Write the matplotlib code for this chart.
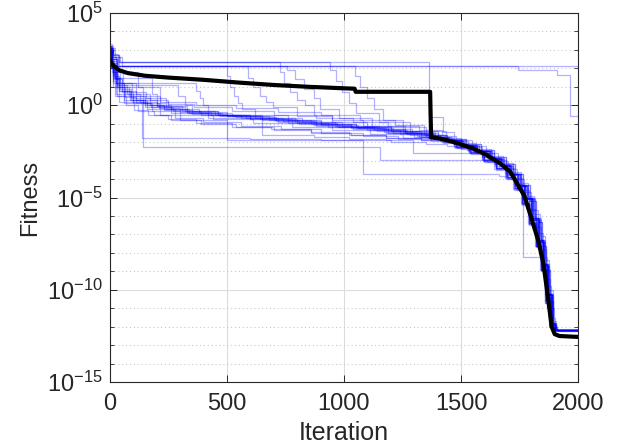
import matplotlib
matplotlib.use('Agg')
import matplotlib.pyplot as plt
import numpy as np

# best-so-far curves of each run: iteration where value changes, log10(fitness)
run_iters = [
    [0, 8, 25, 2000],
    [0, 12, 30, 1744, 1910, 1966, 2000],
    [0, 15, 40, 1363, 1423, 1470, 1530, 1590, 1640, 1690, 1725, 1760, 1790, 1815, 1840, 1862, 1880, 1898, 1915, 2000],
    [0, 20, 45, 727, 745, 770, 800, 835, 870, 950, 1080, 1200, 1320, 1430, 1490, 1550, 1610, 1665, 1705, 1742, 1772, 1802, 1830, 1850, 1868, 1886, 1900, 2000],
    [0, 10, 35, 500, 515, 530, 548, 565, 620, 760, 900, 1050, 1180, 1300, 1410, 1470, 1535, 1595, 1648, 1692, 1728, 1760, 1790, 1818, 1840, 1860, 1878, 1893, 2000],
    [0, 15, 50, 590, 610, 640, 665, 697, 800, 950, 1100, 1250, 1380, 1460, 1520, 1585, 1640, 1690, 1730, 1765, 1795, 1822, 1845, 1862, 1878, 1893, 1908, 2000],
    [0, 12, 40, 756, 790, 830, 870, 897, 980, 1120, 1260, 1390, 1450, 1510, 1570, 1625, 1675, 1715, 1750, 1780, 1808, 1835, 1855, 1872, 1890, 1904, 2000],
    [0, 15, 35, 940, 965, 990, 1020, 1050, 1150, 1280, 1400, 1445, 1505, 1565, 1622, 1672, 1712, 1748, 1778, 1806, 1832, 1853, 1870, 1888, 1902, 2000],
    [0, 10, 30, 1047, 1070, 1100, 1130, 1167, 1250, 1350, 1430, 1480, 1540, 1600, 1650, 1695, 1730, 1762, 1792, 1820, 1842, 1862, 1880, 1895, 2000],
    [0, 5, 15, 30, 60, 100, 160, 260, 380, 520, 700, 880, 1050, 1200, 1330, 1440, 1500, 1560, 1620, 1670, 1710, 1745, 1775, 1805, 1832, 1852, 1870, 1888, 1902, 2000],
    [0, 6, 20, 45, 90, 140, 210, 300, 430, 600, 760, 930, 1100, 1240, 1360, 1430, 1480, 1540, 1600, 1650, 1695, 1730, 1762, 1792, 1820, 1842, 1862, 1880, 1895, 2000],
    [0, 8, 25, 214, 250, 320, 450, 580, 740, 900, 1060, 1210, 1350, 1460, 1520, 1585, 1640, 1690, 1730, 1765, 1795, 1822, 1845, 1862, 1878, 1893, 1908, 2000],
    [0, 10, 30, 180, 200, 240, 340, 480, 650, 820, 990, 1150, 1290, 1400, 1450, 1510, 1570, 1625, 1675, 1715, 1750, 1780, 1808, 1835, 1855, 1872, 1890, 1904, 2000],
    [0, 5, 12, 30, 70, 120, 190, 280, 400, 560, 730, 900, 1080, 1230, 1370, 1425, 1475, 1535, 1592, 1642, 1688, 1722, 1755, 1786, 1815, 1838, 1858, 1876, 1892, 2000],
    [0, 7, 18, 40, 80, 150, 230, 350, 500, 650, 810, 980, 1140, 1280, 1410, 1470, 1530, 1590, 1645, 1693, 1732, 1768, 1798, 1826, 1848, 1866, 1883, 1898, 2000],
    [0, 8, 25, 60, 141, 1154, 1610, 1660, 1700, 1738, 1770, 1800, 1828, 1850, 1868, 1886, 1900, 2000],
    [0, 6, 20, 50, 100, 180, 300, 500, 1081, 1625, 1660, 1700, 1738, 1770, 1800, 1828, 1850, 1868, 1886, 1900, 2000],
    [0, 5, 15, 40, 90, 150, 260, 420, 650, 870, 1020, 1180, 1295, 1590, 1650, 1695, 1730, 1762, 1792, 1820, 1842, 1862, 1880, 1895, 2000],
    [0, 10, 25, 55, 110, 170, 250, 360, 520, 700, 880, 1040, 1190, 1320, 1420, 1480, 1545, 1605, 1658, 1700, 1738, 1770, 1800, 1828, 1850, 1868, 1886, 1900, 2000],
    [0, 4, 14, 35, 75, 130, 200, 310, 460, 620, 790, 960, 1120, 1260, 1380, 1455, 1515, 1578, 1632, 1682, 1722, 1758, 1788, 1815, 1840, 1858, 1875, 1891, 1905, 2000],
    [0, 10, 120, 140, 170, 230, 330, 470, 640, 800, 970, 1130, 1270, 1390, 1465, 1525, 1590, 1645, 1693, 1732, 1768, 1798, 1826, 1848, 1866, 1883, 1898, 2000],
    [0, 6, 16, 38, 85, 160, 280, 440, 610, 780, 950, 1110, 1250, 1400, 1440, 1495, 1555, 1615, 1665, 1705, 1742, 1772, 1802, 1830, 1850, 1868, 1886, 1900, 2000],
    [0, 8, 20, 214, 260, 390, 540, 700, 860, 1030, 1180, 1330, 1420, 1478, 1540, 1600, 1652, 1697, 1734, 1766, 1796, 1823, 1845, 1864, 1881, 1896, 2000],
    [0, 5, 14, 32, 65, 110, 175, 270, 390, 540, 710, 870, 1030, 1170, 1310, 1415, 1470, 1530, 1590, 1640, 1688, 1726, 1760, 1790, 1818, 1842, 1860, 1878, 1894, 2000],
    [0, 6, 18, 42, 95, 155, 240, 370, 540, 720, 900, 1070, 1220, 1340, 1435, 1500, 1565, 1628, 1680, 1720, 1755, 1785, 1812, 1838, 1858, 1875, 1892, 1906, 2000],
    [0, 4, 12, 28, 60, 105, 165, 250, 370, 520, 690, 860, 1020, 1180, 1330, 1428, 1482, 1542, 1598, 1648, 1692, 1728, 1760, 1790, 1818, 1840, 1860, 1878, 1893, 2000],
    [0, 8, 28, 370, 385, 400, 420, 460, 600, 780, 950, 1110, 1260, 1385, 1450, 1512, 1575, 1632, 1682, 1722, 1758, 1788, 1815, 1840, 1858, 1875, 1891, 1905, 2000],
    [0, 8, 30, 290, 320, 350, 420, 560, 720, 880, 1040, 1190, 1330, 1440, 1505, 1568, 1628, 1678, 1718, 1752, 1782, 1810, 1836, 1856, 1873, 1890, 1904, 2000],
    [0, 5, 15, 40, 137, 600, 900, 1200, 1350, 1440, 1500, 1560, 1620, 1670, 1710, 1745, 1775, 1805, 1832, 1852, 1870, 1888, 1902, 2000],
    [0, 6, 20, 50, 110, 200, 330, 500, 680, 860, 1030, 1190, 1340, 1440, 1500, 1560, 1620, 1670, 1710, 1740, 1765, 1850, 1870, 1888, 1902, 2000],
]
run_logs = [
    [3.0, 2.6, 2.13, 2.13],
    [3.1, 2.5, 2.13, 1.91, 1.64, -0.58, -0.58],
    [3.0, 2.7, 2.36, -0.62, -1.45, -1.95, -2.25, -2.6, -2.95, -3.4, -3.95, -4.6, -5.6, -6.6, -7.8, -9.4, -11.0, -12.1, -12.2, -12.2],
    [3.1, 2.6, 2.36, 1.8, 1.2, 0.7, 0.3, 0.0, -0.5, -0.8, -1.1, -1.4, -1.7, -1.9, -2.15, -2.45, -2.85, -3.25, -3.7, -4.3, -5.0, -6.1, -7.3, -8.6, -10.2, -11.8, -12.2, -12.2],
    [3.0, 2.5, 2.13, 1.6, 1.0, 0.5, 0.1, -0.2, -0.5, -0.8, -1.0, -1.25, -1.5, -1.7, -1.95, -2.25, -2.55, -2.95, -3.4, -3.9, -4.5, -5.3, -6.4, -7.6, -8.9, -10.6, -12.0, -12.2, -12.2],
    [3.2, 2.6, 2.13, 1.5, 1.0, 0.5, 0.2, -0.1, -0.6, -0.9, -1.2, -1.5, -1.8, -1.85, -2.1, -2.4, -2.8, -3.2, -3.7, -4.3, -5.2, -6.3, -7.6, -8.9, -10.6, -12.0, -12.25, -12.25],
    [3.0, 2.7, 2.13, 1.9, 1.4, 0.9, 0.4, -0.2, -0.7, -1.1, -1.45, -1.75, -1.95, -2.2, -2.5, -2.9, -3.3, -3.75, -4.35, -5.1, -6.2, -7.4, -8.7, -10.3, -11.9, -12.2, -12.2],
    [3.1, 2.8, 2.36, 1.9, 1.3, 0.7, 0.1, -0.4, -0.9, -1.4, -1.8, -1.9, -2.15, -2.45, -2.85, -3.25, -3.7, -4.3, -5.0, -6.1, -7.3, -8.6, -10.2, -11.8, -12.2, -12.2],
    [3.0, 2.5, 2.13, 1.6, 1.0, 0.4, -0.2, -0.8, -1.2, -1.6, -1.9, -2.25, -2.55, -2.95, -3.4, -3.9, -4.5, -5.3, -6.4, -7.6, -8.9, -10.6, -12.0, -12.2, -12.2],
    [3.2, 2.5, 1.8, 1.2, 0.6, 0.2, 0.0, -0.2, -0.4, -0.6, -0.8, -1.0, -1.2, -1.4, -1.6, -1.9, -2.15, -2.45, -2.85, -3.25, -3.7, -4.3, -5.0, -6.1, -7.3, -8.6, -10.2, -11.8, -12.2, -12.2],
    [3.0, 2.2, 1.5, 0.9, 0.4, 0.1, -0.15, -0.35, -0.55, -0.75, -0.95, -1.15, -1.35, -1.55, -1.75, -1.95, -2.25, -2.55, -2.95, -3.4, -3.9, -4.5, -5.3, -6.4, -7.6, -8.9, -10.6, -12.0, -12.2, -12.2],
    [3.1, 2.0, 1.0, 0.2, -0.1, -0.3, -0.5, -0.7, -0.85, -1.05, -1.25, -1.5, -1.7, -1.85, -2.1, -2.4, -2.8, -3.2, -3.7, -4.3, -5.2, -6.3, -7.6, -8.9, -10.6, -12.0, -12.25, -12.25],
    [3.2, 2.4, 1.5, 0.6, 0.1, -0.2, -0.4, -0.55, -0.7, -0.9, -1.1, -1.3, -1.5, -1.7, -1.95, -2.2, -2.5, -2.9, -3.3, -3.75, -4.35, -5.1, -6.2, -7.4, -8.7, -10.3, -11.9, -12.2, -12.2],
    [3.0, 2.0, 1.2, 0.5, 0.0, -0.3, -0.5, -0.7, -0.9, -1.1, -1.3, -1.5, -1.65, -1.8, -1.95, -2.05, -2.3, -2.6, -3.0, -3.45, -3.95, -4.55, -5.35, -6.45, -7.65, -8.95, -10.7, -12.0, -12.2, -12.2],
    [3.1, 2.3, 1.6, 1.0, 0.5, 0.0, -0.25, -0.45, -0.6, -0.8, -1.0, -1.2, -1.4, -1.6, -1.9, -2.2, -2.5, -2.9, -3.3, -3.8, -4.4, -5.2, -6.3, -7.5, -8.8, -10.5, -11.9, -12.2, -12.2],
    [3.1, 2.2, 1.2, 0.3, -2.25, -2.97, -3.1, -3.4, -3.8, -4.3, -5.0, -6.1, -7.3, -8.6, -10.2, -11.8, -12.2, -12.2],
    [3.0, 2.1, 1.4, 0.7, 0.1, -0.3, -0.8, -1.9, -3.7, -3.75, -3.85, -4.0, -4.4, -5.0, -6.1, -7.3, -8.6, -10.2, -11.8, -12.2, -12.2],
    [3.0, 2.3, 1.5, 0.8, 0.3, -0.1, -0.4, -0.7, -1.6, -1.7, -1.8, -1.9, -2.6, -2.95, -3.4, -3.9, -4.5, -5.3, -6.4, -7.6, -8.9, -10.6, -12.0, -12.2, -12.2],
    [3.3, 2.6, 1.9, 1.2, 0.6, 0.3, 0.05, -0.1, -0.3, -0.5, -0.7, -0.9, -1.1, -1.35, -1.65, -1.9, -2.2, -2.6, -3.0, -3.45, -4.0, -4.7, -5.7, -6.9, -8.2, -9.8, -11.5, -12.2, -12.2],
    [3.1, 2.4, 1.7, 1.1, 0.6, 0.2, -0.05, -0.3, -0.5, -0.7, -0.9, -1.1, -1.3, -1.5, -1.7, -1.9, -2.15, -2.45, -2.85, -3.25, -3.7, -4.3, -5.0, -6.1, -7.3, -8.6, -10.2, -11.8, -12.2, -12.2],
    [3.0, 1.8, 1.0, 0.4, 0.0, -0.2, -0.4, -0.6, -0.75, -0.95, -1.15, -1.35, -1.55, -1.8, -2.1, -2.4, -2.8, -3.2, -3.7, -4.3, -5.1, -6.2, -7.4, -8.7, -10.4, -11.9, -12.2, -12.2],
    [3.2, 2.2, 1.4, 0.8, 0.3, -0.2, -0.5, -0.75, -0.95, -1.15, -1.35, -1.55, -1.75, -1.85, -2.0, -2.25, -2.55, -2.9, -3.3, -3.75, -4.35, -5.05, -6.15, -7.35, -8.65, -10.25, -11.85, -12.2, -12.2],
    [3.0, 2.0, 0.5, -0.5, -0.8, -1.0, -1.2, -1.35, -1.5, -1.6, -1.75, -1.9, -2.0, -2.25, -2.6, -3.0, -3.45, -3.95, -4.55, -5.35, -6.45, -7.65, -8.95, -10.7, -12.0, -12.2, -12.2],
    [3.1, 2.4, 1.6, 1.0, 0.45, 0.1, -0.1, -0.3, -0.5, -0.65, -0.85, -1.05, -1.25, -1.45, -1.65, -1.85, -2.1, -2.4, -2.8, -3.2, -3.65, -4.25, -5.0, -6.0, -7.2, -8.7, -10.3, -11.9, -12.2, -12.2],
    [3.2, 2.5, 1.8, 1.2, 0.7, 0.4, 0.2, 0.0, -0.15, -0.35, -0.55, -0.8, -1.05, -1.4, -1.75, -2.05, -2.35, -2.75, -3.15, -3.6, -4.2, -4.9, -5.9, -7.1, -8.4, -10.0, -11.7, -12.2, -12.2],
    [3.0, 2.1, 1.3, 0.6, 0.1, -0.25, -0.5, -0.75, -0.95, -1.15, -1.3, -1.45, -1.6, -1.75, -1.9, -2.0, -2.3, -2.65, -3.05, -3.5, -4.0, -4.6, -5.4, -6.5, -7.7, -9.0, -10.7, -12.0, -12.2, -12.2],
    [3.1, 2.2, 1.2, 0.8, 0.4, 0.0, -0.3, -0.55, -0.75, -0.95, -1.15, -1.35, -1.55, -1.75, -1.95, -2.2, -2.5, -2.9, -3.3, -3.75, -4.35, -5.1, -6.2, -7.4, -8.7, -10.3, -11.9, -12.2, -12.2],
    [3.0, 2.3, 1.1, 0.5, 0.0, -0.3, -0.5, -0.7, -0.9, -1.1, -1.3, -1.5, -1.7, -1.9, -2.15, -2.5, -2.9, -3.3, -3.75, -4.35, -5.05, -6.15, -7.35, -8.65, -10.25, -11.85, -12.2, -12.2],
    [3.0, 2.0, 1.0, 0.2, -1.75, -1.8, -1.9, -2.0, -2.1, -2.2, -2.35, -2.6, -2.95, -3.3, -3.75, -4.35, -5.05, -6.15, -7.35, -8.65, -10.25, -11.85, -12.2, -12.2],
    [3.1, 2.3, 1.5, 0.8, 0.3, -0.05, -0.35, -0.6, -0.8, -1.0, -1.2, -1.4, -1.6, -1.9, -2.15, -2.45, -2.85, -3.25, -3.7, -4.6, -8.2, -8.9, -10.4, -11.9, -12.2, -12.2],
]

# thick black curve
black_iters = [0, 15, 40, 75, 150, 250, 400, 550, 700, 850, 1000, 1045, 1050, 1368, 1372, 1410,
               1470, 1550, 1610, 1667, 1710, 1740, 1770, 1800, 1830, 1852, 1870, 1887, 1900, 1920, 2000]
black_logs = [2.45, 2.15, 1.9, 1.75, 1.6, 1.5, 1.38, 1.23, 1.1, 1.0, 0.92, 0.9, 0.73, 0.73, -1.74, -1.8,
              -2.0, -2.33, -2.7, -3.15, -3.6, -4.25, -4.9, -6.1, -7.35, -8.6, -10.3, -12.0, -12.4, -12.5, -12.55]

xticks = [0, 500, 1000, 1500, 2000]
yexp = [-15, -10, -5, 0, 5]

plt.rcParams['font.family'] = ['Liberation Sans', 'DejaVu Sans']
plt.rcParams['mathtext.fontset'] = 'custom'
plt.rcParams['mathtext.rm'] = 'Liberation Sans'

fig = plt.figure(figsize=(6.17, 4.48), dpi=100)
ax = fig.add_axes([0.178, 0.147, 0.759, 0.824])

for it, lg in zip(run_iters, run_logs):
    ax.plot(it, 10.0 ** np.array(lg), drawstyle='steps-post', color=(0, 0, 1), alpha=0.3, lw=0.9)

ax.plot(black_iters, 10.0 ** np.array(black_logs), color='black', lw=3, solid_joinstyle='round')

ax.set_yscale('log')
ax.set_xlim(0, 2000)
ax.set_ylim(1e-15, 1e5)
ax.set_xticks(xticks)
ax.set_xticklabels([str(t) for t in xticks])
ax.set_yticks([10.0 ** e for e in yexp])
ax.set_yticklabels([r'$\mathregular{10^{%d}}$' % e for e in yexp])
ax.set_yticks([10.0 ** e for e in range(-15, 6)], minor=True)
ax.yaxis.set_minor_formatter(matplotlib.ticker.NullFormatter())

ax.grid(True, which='major', color='#dcdcdc', lw=0.8, ls='-')
ax.grid(True, which='minor', axis='y', color='#c8c8c8', lw=0.8, ls=(0, (1, 2.5)))
ax.set_axisbelow(True)

ax.tick_params(which='both', direction='in', top=True, right=True, colors='#262626', labelsize=17)
ax.tick_params(axis='x', pad=8)
ax.tick_params(axis='y', pad=5)
ax.tick_params(which='major', length=5, width=0.7)
ax.tick_params(which='minor', length=3, width=0.6)
for s in ax.spines.values():
    s.set_color('#262626')
    s.set_linewidth(0.8)

ax.set_xlabel('Iteration', fontsize=18, color='#262626', labelpad=4)
ax.set_ylabel('Fitness', fontsize=17, color='#262626', labelpad=4)

fig.savefig('out.png', dpi=100)
